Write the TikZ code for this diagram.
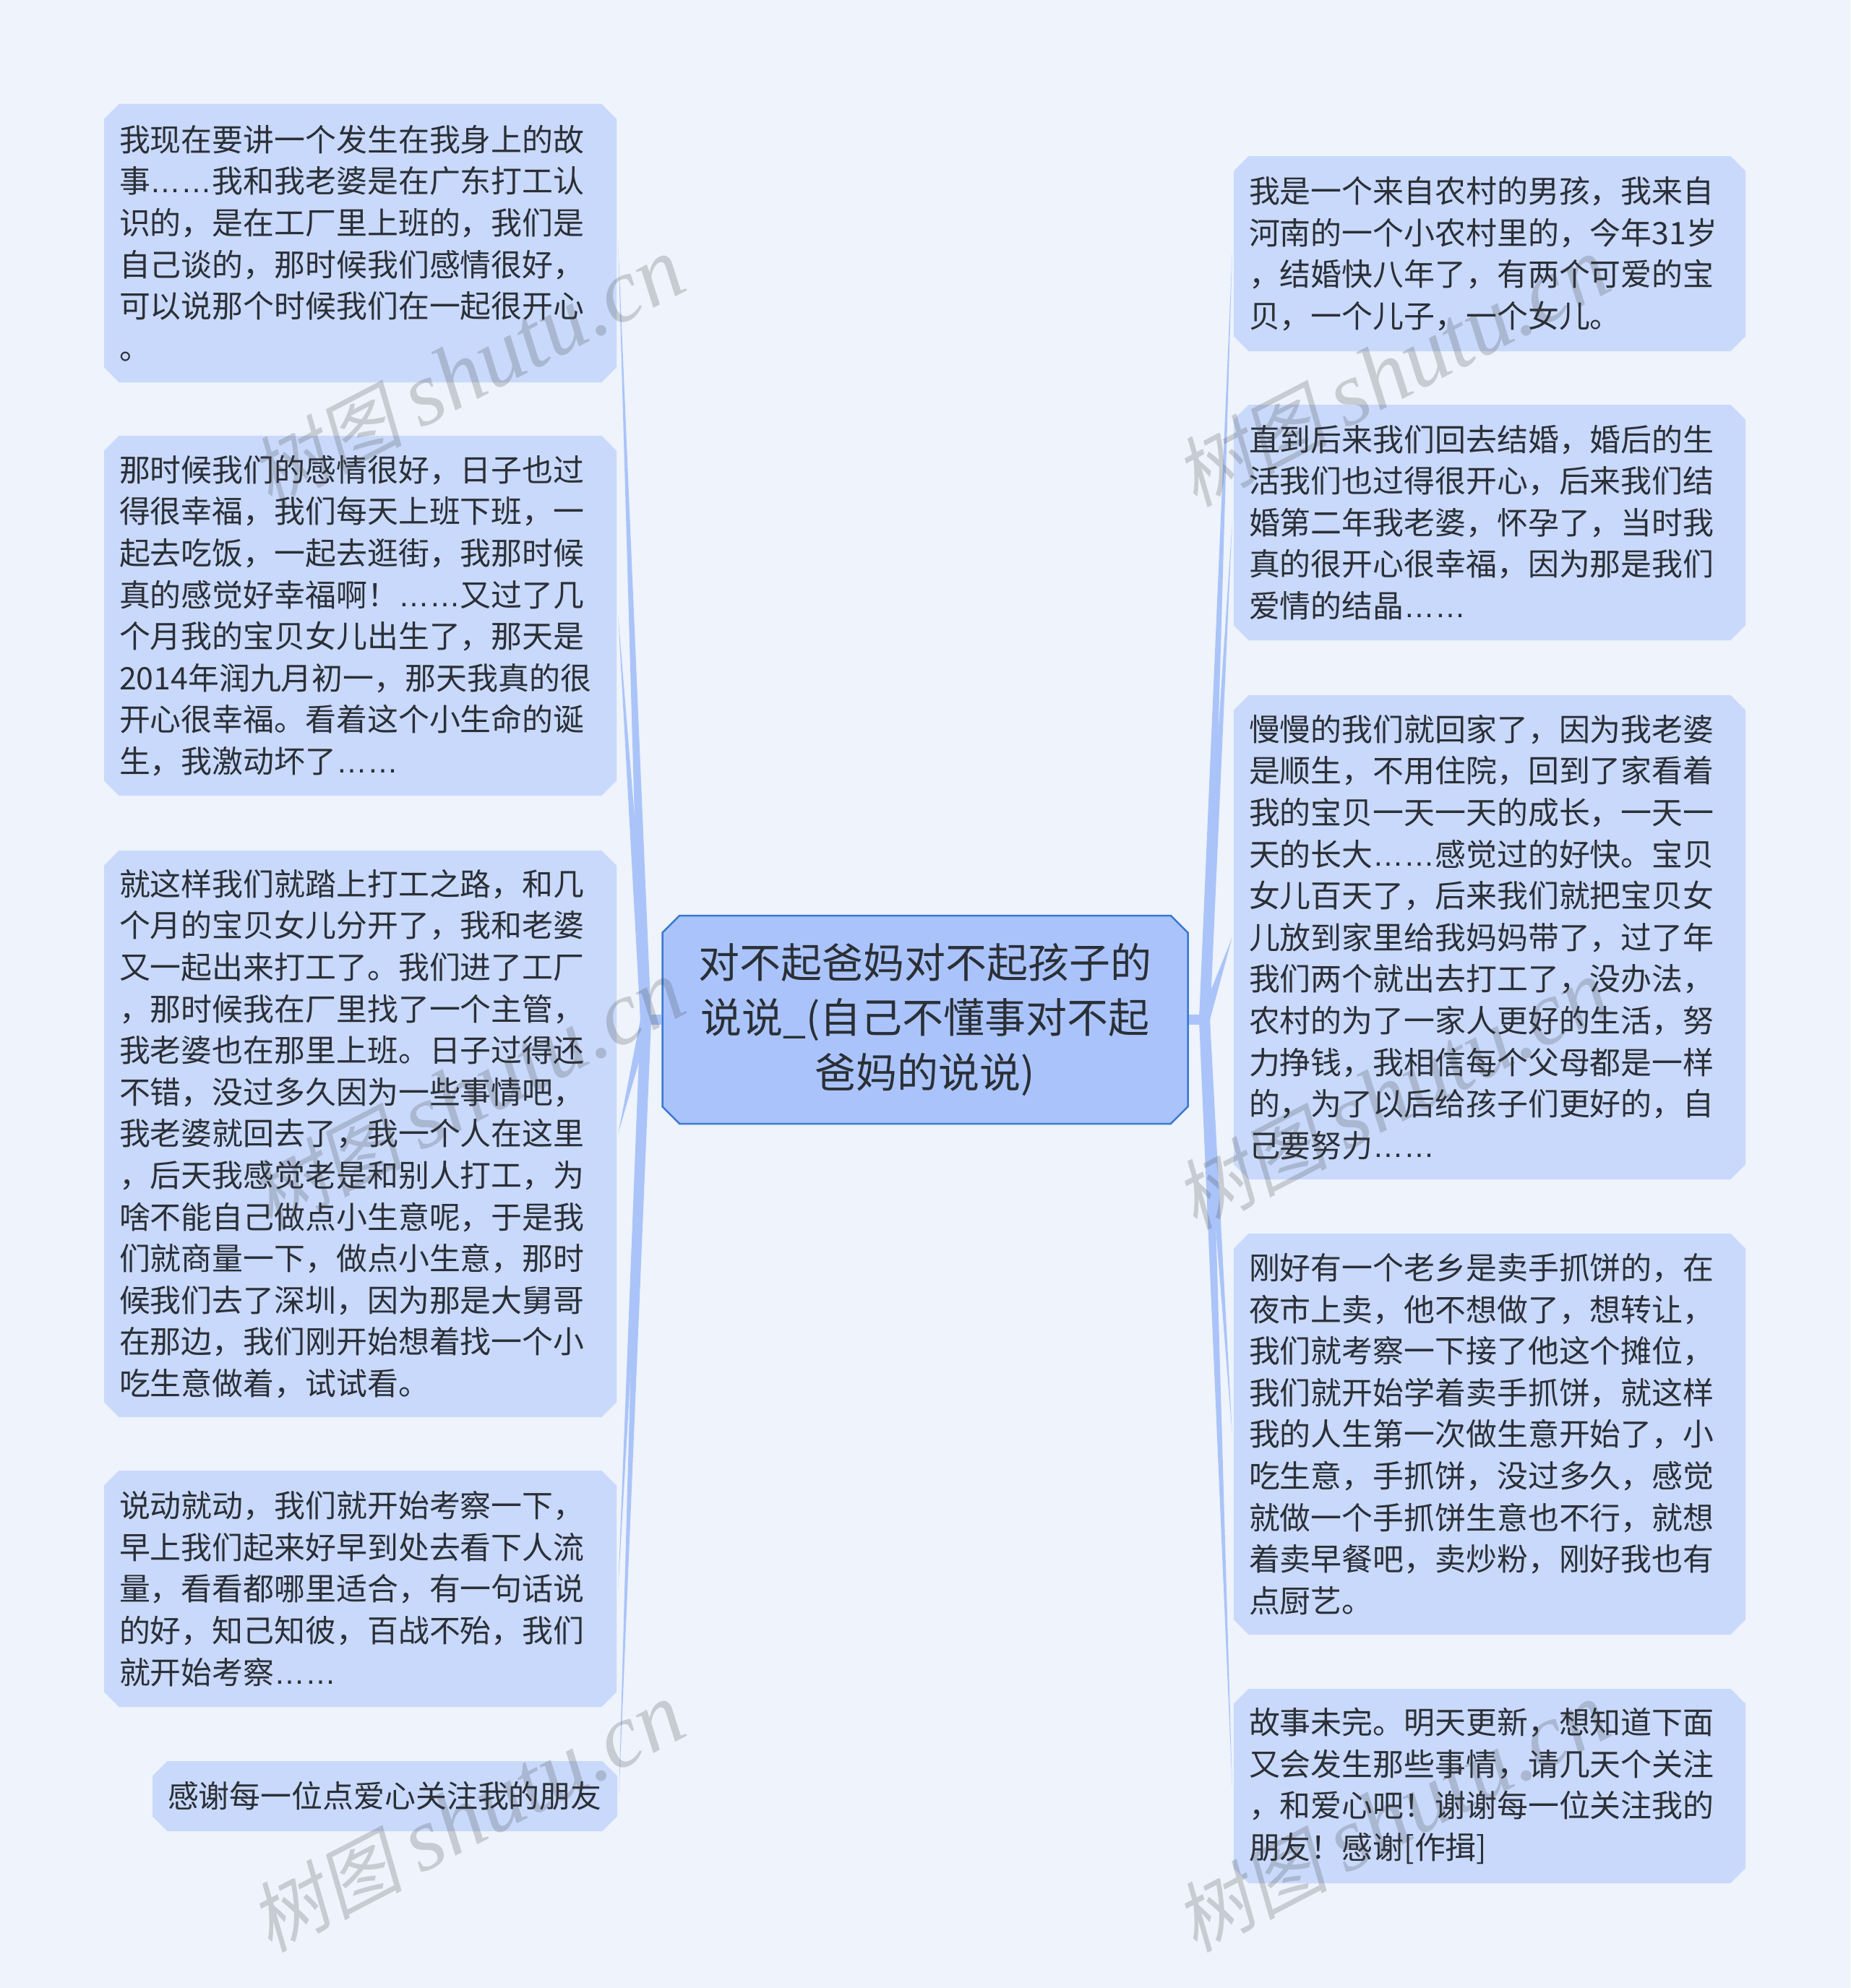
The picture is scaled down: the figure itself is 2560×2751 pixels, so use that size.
\documentclass[tikz,border=0pt]{standalone}
\usepackage{fontspec}
\setmainfont{Noto Sans CJK SC}
\newfontfamily\dotfont{Liberation Sans}
\newfontfamily\wmcjk[FakeSlant=0.2]{Noto Sans CJK SC}
\newfontfamily\wmlatin{Liberation Serif}[ItalicFont=* Italic]
\usetikzlibrary{shapes.misc,backgrounds}
\definecolor{bgcol}{HTML}{EEF3FC}
\definecolor{kidfill}{HTML}{C9D9FB}
\definecolor{rootfill}{HTML}{AAC4FB}
\definecolor{rootline}{HTML}{3A78D2}
\definecolor{linkcol}{HTML}{AAC4F9}
\definecolor{inkcol}{HTML}{2B2F36}
\newcommand{\dd}{{\dotfont ……}}
\newcommand{\wmtext}{{\wmcjk\fontsize{106}{106}\selectfont 树图}\hspace{24pt}{\wmlatin\itshape\fontsize{125}{125}\selectfont shutu.cn}}
\tikzset{
  kid/.style={chamfered rectangle,chamfered rectangle angle=45,chamfered rectangle xsep=17pt,
    fill=kidfill,draw=none,inner sep=0pt,align=left,text=inkcol,
    font=\fontsize{42.9}{57.6}\selectfont},
  rootbox/.style={chamfered rectangle,chamfered rectangle angle=45,chamfered rectangle xsep=20pt,
    fill=rootfill,draw=rootline,line width=2.5pt,inner sep=0pt,align=center,text=inkcol,
    font=\fontsize{57}{76}\selectfont},
  taper/.style={fill=linkcol,draw=none},
  stub/.style={draw=linkcol,line width=14pt},
  wm/.style={rotate=27.5,text=black!75,text opacity=0.22,inner sep=0pt}
}
\begin{document}
\begin{tikzpicture}[x=1pt,y=-1pt]
\useasboundingbox (0,0) rectangle (2560,2751);
\node[rootbox,minimum width=727pt,minimum height=288pt,text width=680pt] (root) at (1280,1411)
  {对不起爸妈对不起孩子的\\说说\_(自己不懂事对不起\\爸妈的说说)};

\node[kid,minimum width=709pt,minimum height=385pt,text width=667pt] (l1) at (498.5,336.5)
  {我现在要讲一个发生在我身上的故\\事\dd 我和我老婆是在广东打工认\\识的，是在工厂里上班的，我们是\\自己谈的，那时候我们感情很好，\\可以说那个时候我们在一起很开心\\。};
\node[kid,minimum width=709pt,minimum height=498pt,text width=667pt] (l2) at (498.5,852)
  {那时候我们的感情很好，日子也过\\得很幸福，我们每天上班下班，一\\起去吃饭，一起去逛街，我那时候\\真的感觉好幸福啊！\dd 又过了几\\个月我的宝贝女儿出生了，那天是\\2014年润九月初一，那天我真的很\\开心很幸福。看着这个小生命的诞\\生，我激动坏了\dd};
\node[kid,minimum width=709pt,minimum height=784pt,text width=667pt] (l3) at (498.5,1569)
  {就这样我们就踏上打工之路，和几\\个月的宝贝女儿分开了，我和老婆\\又一起出来打工了。我们进了工厂\\，那时候我在厂里找了一个主管，\\我老婆也在那里上班。日子过得还\\不错，没过多久因为一些事情吧，\\我老婆就回去了，我一个人在这里\\，后天我感觉老是和别人打工，为\\啥不能自己做点小生意呢，于是我\\们就商量一下，做点小生意，那时\\候我们去了深圳，因为那是大舅哥\\在那边，我们刚开始想着找一个小\\吃生意做着，试试看。};
\node[kid,minimum width=709pt,minimum height=327pt,text width=667pt] (l4) at (498.5,2198.5)
  {说动就动，我们就开始考察一下，\\早上我们起来好早到处去看下人流\\量，看看都哪里适合，有一句话说\\的好，知己知彼，百战不殆，我们\\就开始考察\dd};
\node[kid,minimum width=643pt,minimum height=97pt,text width=601pt] (l5) at (532.5,2485.5)
  {感谢每一位点爱心关注我的朋友};

\node[kid,minimum width=708pt,minimum height=270pt,text width=666pt] (r1) at (2061,351)
  {我是一个来自农村的男孩，我来自\\河南的一个小农村里的，今年31岁\\，结婚快八年了，有两个可爱的宝\\贝，一个儿子，一个女儿。};
\node[kid,minimum width=708pt,minimum height=326pt,text width=666pt] (r2) at (2061,723)
  {直到后来我们回去结婚，婚后的生\\活我们也过得很开心，后来我们结\\婚第二年我老婆，怀孕了，当时我\\真的很开心很幸福，因为那是我们\\爱情的结晶\dd};
\node[kid,minimum width=708pt,minimum height=670pt,text width=666pt] (r3) at (2061,1297)
  {慢慢的我们就回家了，因为我老婆\\是顺生，不用住院，回到了家看着\\我的宝贝一天一天的成长，一天一\\天的长大\dd 感觉过的好快。宝贝\\女儿百天了，后来我们就把宝贝女\\儿放到家里给我妈妈带了，过了年\\我们两个就出去打工了，没办法，\\农村的为了一家人更好的生活，努\\力挣钱，我相信每个父母都是一样\\的，为了以后给孩子们更好的，自\\己要努力\dd};
\node[kid,minimum width=708pt,minimum height=555pt,text width=666pt] (r4) at (2061,1984.5)
  {刚好有一个老乡是卖手抓饼的，在\\夜市上卖，他不想做了，想转让，\\我们就考察一下接了他这个摊位，\\我们就开始学着卖手抓饼，就这样\\我的人生第一次做生意开始了，小\\吃生意，手抓饼，没过多久，感觉\\就做一个手抓饼生意也不行，就想\\着卖早餐吧，卖炒粉，刚好我也有\\点厨艺。};
\node[kid,minimum width=708pt,minimum height=269pt,text width=666pt] (r5) at (2061,2471.5)
  {故事未完。明天更新，想知道下面\\又会发生那些事情，请几天个关注\\，和爱心吧！谢谢每一位关注我的\\朋友！感谢[作揖]};

\coordinate (la) at (886,1411);
\coordinate (lb) at (901,1411);
\coordinate (ra) at (1659,1411);
\coordinate (rb) at (1674,1411);

\begin{scope}[on background layer]
  \fill[bgcol] (0,0) rectangle (2560,2751);
  \draw[stub] (root.west) -- (la);
  \draw[stub] (root.east) -- (rb);
  \foreach \k in {l1,l2,l3,l4,l5} \fill[taper] (la) -- ([xshift=2pt]\k.east) -- (lb) -- cycle;
  \foreach \k in {r1,r2,r3,r4,r5} \fill[taper] (ra) -- ([xshift=-2pt]\k.west) -- (rb) -- cycle;
\end{scope}

\node[wm] (w1) at (646,515) {\wmtext};
\node[wm] (w2) at (646,1515) {\wmtext};
\node[wm] (w3) at (646,2515) {\wmtext};
\node[wm] (w4) at (1926,515) {\wmtext};
\node[wm] (w5) at (1926,1515) {\wmtext};
\node[wm] (w6) at (1926,2515) {\wmtext};
\end{tikzpicture}
\end{document}
